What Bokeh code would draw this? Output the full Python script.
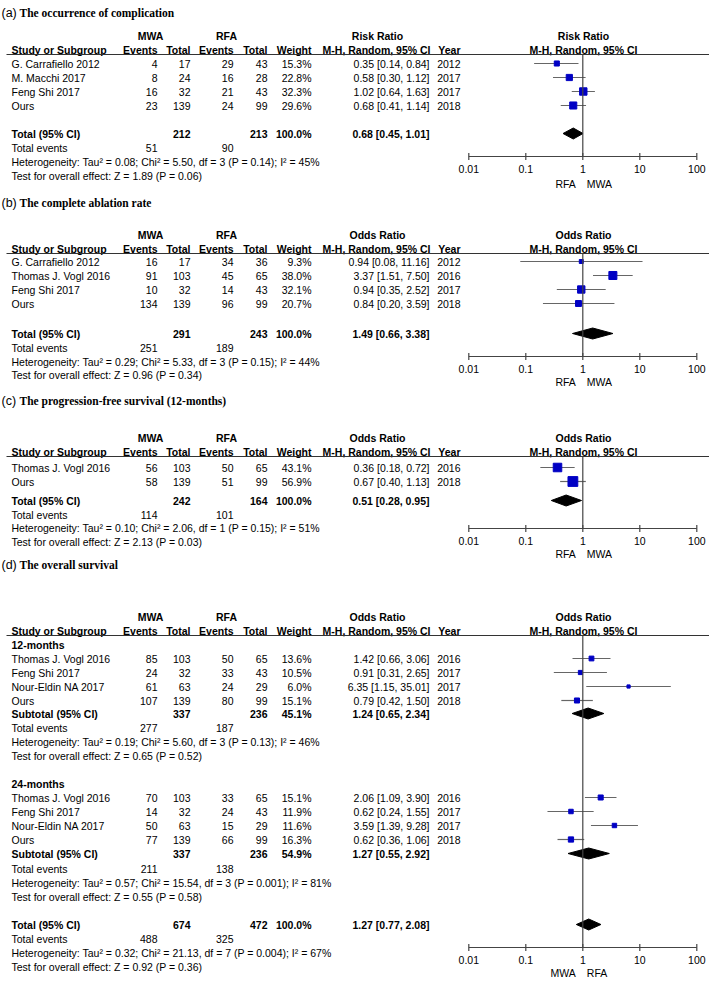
from bokeh.plotting import figure
from bokeh.models import Range1d, LogScale, ColumnDataSource
from bokeh.core.properties import value
from bokeh.embed import file_html
from bokeh.resources import INLINE

# ---------------- data ----------------
tick_vals = [0.01, 0.1, 1, 10, 100]
tick_labels = ["0.01", "0.1", "1", "10", "100"]

# (a) occurrence of complication (Risk Ratio)
a_study = ["G. Carrafiello 2012", "M. Macchi 2017", "Feng Shi 2017", "Ours"]
a_mwa_ev = [4, 8, 16, 23]
a_mwa_tot = [17, 24, 32, 139]
a_rfa_ev = [29, 16, 21, 24]
a_rfa_tot = [43, 28, 43, 99]
a_weight = [15.3, 22.8, 32.3, 29.6]
a_est = [0.35, 0.58, 1.02, 0.68]
a_lo = [0.14, 0.30, 0.64, 0.41]
a_hi = [0.84, 1.12, 1.63, 1.14]
a_year = [2012, 2017, 2017, 2018]
a_total = [212, 213, 100.0, 0.68, 0.45, 1.01]
a_events = [51, 90]
a_het = "Heterogeneity: Tau\u00b2 = 0.08; Chi\u00b2 = 5.50, df = 3 (P = 0.14); I\u00b2 = 45%"
a_test = "Test for overall effect: Z = 1.89 (P = 0.06)"

# (b) complete ablation rate (Odds Ratio)
b_study = ["G. Carrafiello 2012", "Thomas J. Vogl 2016", "Feng Shi 2017", "Ours"]
b_mwa_ev = [16, 91, 10, 134]
b_mwa_tot = [17, 103, 32, 139]
b_rfa_ev = [34, 45, 14, 96]
b_rfa_tot = [36, 65, 43, 99]
b_weight = [9.3, 38.0, 32.1, 20.7]
b_est = [0.94, 3.37, 0.94, 0.84]
b_lo = [0.08, 1.51, 0.35, 0.20]
b_hi = [11.16, 7.50, 2.52, 3.59]
b_year = [2012, 2016, 2017, 2018]
b_total = [291, 243, 100.0, 1.49, 0.66, 3.38]
b_events = [251, 189]
b_het = "Heterogeneity: Tau\u00b2 = 0.29; Chi\u00b2 = 5.33, df = 3 (P = 0.15); I\u00b2 = 44%"
b_test = "Test for overall effect: Z = 0.96 (P = 0.34)"

# (c) progression-free survival 12 months
c_study = ["Thomas J. Vogl 2016", "Ours"]
c_mwa_ev = [56, 58]
c_mwa_tot = [103, 139]
c_rfa_ev = [50, 51]
c_rfa_tot = [65, 99]
c_weight = [43.1, 56.9]
c_est = [0.36, 0.67]
c_lo = [0.18, 0.40]
c_hi = [0.72, 1.13]
c_year = [2016, 2018]
c_total = [242, 164, 100.0, 0.51, 0.28, 0.95]
c_events = [114, 101]
c_het = "Heterogeneity: Tau\u00b2 = 0.10; Chi\u00b2 = 2.06, df = 1 (P = 0.15); I\u00b2 = 51%"
c_test = "Test for overall effect: Z = 2.13 (P = 0.03)"

# (d) overall survival, 12 months
d1_study = ["Thomas J. Vogl 2016", "Feng Shi 2017", "Nour-Eldin NA 2017", "Ours"]
d1_mwa_ev = [85, 24, 61, 107]
d1_mwa_tot = [103, 32, 63, 139]
d1_rfa_ev = [50, 33, 24, 80]
d1_rfa_tot = [65, 43, 29, 99]
d1_weight = [13.6, 10.5, 6.0, 15.1]
d1_est = [1.42, 0.91, 6.35, 0.79]
d1_lo = [0.66, 0.31, 1.15, 0.42]
d1_hi = [3.06, 2.65, 35.01, 1.50]
d1_year = [2016, 2017, 2017, 2018]
d1_total = [337, 236, 45.1, 1.24, 0.65, 2.34]
d1_events = [277, 187]
d1_het = "Heterogeneity: Tau\u00b2 = 0.19; Chi\u00b2 = 5.60, df = 3 (P = 0.13); I\u00b2 = 46%"
d1_test = "Test for overall effect: Z = 0.65 (P = 0.52)"

# (d) overall survival, 24 months
d2_study = ["Thomas J. Vogl 2016", "Feng Shi 2017", "Nour-Eldin NA 2017", "Ours"]
d2_mwa_ev = [70, 14, 50, 77]
d2_mwa_tot = [103, 32, 63, 139]
d2_rfa_ev = [33, 24, 15, 66]
d2_rfa_tot = [65, 43, 29, 99]
d2_weight = [15.1, 11.9, 11.6, 16.3]
d2_est = [2.06, 0.62, 3.59, 0.62]
d2_lo = [1.09, 0.24, 1.39, 0.36]
d2_hi = [3.90, 1.55, 9.28, 1.06]
d2_year = [2016, 2017, 2017, 2018]
d2_total = [337, 236, 54.9, 1.27, 0.55, 2.92]
d2_events = [211, 138]
d2_het = "Heterogeneity: Tau\u00b2 = 0.57; Chi\u00b2 = 15.54, df = 3 (P = 0.001); I\u00b2 = 81%"
d2_test = "Test for overall effect: Z = 0.55 (P = 0.58)"

# (d) overall
d_total = [674, 472, 100.0, 1.27, 0.77, 2.08]
d_events = [488, 325]
d_het = "Heterogeneity: Tau\u00b2 = 0.32; Chi\u00b2 = 21.13, df = 7 (P = 0.004); I\u00b2 = 67%"
d_test = "Test for overall effect: Z = 0.92 (P = 0.36)"

# ---------------- figure ----------------
W, H = 709, 982
X0, X1, Y0, Y1 = 0, W, 0, H
LOG_ORIGIN = 468.3     # pixel column of 0.01
DECADE = 57.0          # pixels per decade
p = figure(width=W, height=H, x_range=Range1d(X0, X1), y_range=Range1d(Y1, Y0),
           output_backend="svg", toolbar_location=None, min_border=0,
           x_axis_location=None, y_axis_location=None)
p.grid.visible = False
p.outline_line_color = None
p.background_fill_color = "white"
p.border_fill_color = "white"
p.extra_x_ranges = {"log": Range1d(10 ** (-2 - (LOG_ORIGIN - X0) / DECADE),
                                   10 ** (-2 + (X1 - LOG_ORIGIN) / DECADE))}
p.extra_x_scales = {"log": LogScale()}

SANS = value("Liberation Sans")
FS = "10.5px"
LINE_C = "#666666"
BLUE = "#0000c4"

# column anchors (pixels)
C_STUDY, C_MEV, C_MTOT, C_REV, C_RTOT, C_W, C_CI, C_YEAR = 11, 157, 190, 233, 267, 311, 429, 460
FOREST_C = 583


def txt(xs, ys, texts, align="left", bold=False, size=FS, font=SANS, log=False, xoff=0):
    src = ColumnDataSource(dict(x=list(xs), y=list(ys), t=list(texts)))
    kw = dict(x_range_name="log") if log else {}
    p.text(x="x", y="y", text="t", source=src, text_font=font, text_font_size=size,
           text_font_style="bold" if bold else "normal", text_align=align,
           text_baseline="middle", text_color="black", x_offset=xoff, **kw)


def ci_str(e, l, h):
    return f"{e:.2f} [{l:.2f}, {h:.2f}]"


def header(L, measure, title_letter, title_text):
    txt([1], [L["title"]], [f"({title_letter})"], size="12.5px")
    txt([19], [L["title"] + 0.5], [title_text], bold=True, size="11.5px", font=value("Liberation Serif"))
    txt([150, 226, 377], [L["h1"]] * 3, ["MWA", "RFA", measure], align="center", bold=True)
    txt([FOREST_C], [L["h1"]], [measure], align="center", bold=True)
    txt([C_STUDY], [L["h2"]], ["Study or Subgroup"], bold=True)
    txt([C_MEV, C_MTOT, C_REV, C_RTOT, C_W, C_CI + 1, C_YEAR], [L["h2"]] * 7,
        ["Events", "Total", "Events", "Total", "Weight", "M-H, Random, 95% CI", "Year"],
        align="right", bold=True)
    txt([FOREST_C], [L["h2"]], ["M-H, Random, 95% CI"], align="center", bold=True)
    p.segment(x0=[6], y0=[L["h2"] + 5], x1=[X1], y1=[L["h2"] + 5], line_color="#333333", line_width=1)


def studies(ys, study, mev, mtot, rev, rtot, w, est, lo, hi, year):
    txt([C_STUDY] * len(ys), ys, study)
    txt([C_MEV] * len(ys), ys, [str(v) for v in mev], align="right")
    txt([C_MTOT] * len(ys), ys, [str(v) for v in mtot], align="right")
    txt([C_REV] * len(ys), ys, [str(v) for v in rev], align="right")
    txt([C_RTOT] * len(ys), ys, [str(v) for v in rtot], align="right")
    txt([C_W] * len(ys), ys, [f"{v:.1f}%" for v in w], align="right")
    txt([C_CI] * len(ys), ys, [ci_str(e, l, h) for e, l, h in zip(est, lo, hi)], align="right")
    txt([C_YEAR] * len(ys), ys, [str(v) for v in year], align="right")
    p.segment(x0=lo, y0=ys, x1=hi, y1=ys, x_range_name="log", line_color=LINE_C, line_width=1.2)
    sizes = [max(3.0, 1.3 * wi ** 0.5) for wi in w]
    p.scatter(x=est, y=ys, size=sizes, marker="square", x_range_name="log",
              fill_color=BLUE, line_color=BLUE)


def total_row(y, label, tot, ev_y, ev, het_y, het, test_y, test):
    txt([C_STUDY], [y], [label], bold=True)
    txt([C_MTOT, C_RTOT, C_W, C_CI], [y] * 4,
        [str(tot[0]), str(tot[1]), f"{tot[2]:.1f}%", ci_str(tot[3], tot[4], tot[5])],
        align="right", bold=True)
    e, l, h = tot[3], tot[4], tot[5]
    p.patches(xs=[[l, e, h, e]], ys=[[y, y - 5.5, y, y + 5.5]], x_range_name="log",
              fill_color="black", line_color="black")
    txt([C_STUDY], [ev_y], ["Total events"])
    txt([C_MEV, C_REV], [ev_y] * 2, [str(ev[0]), str(ev[1])], align="right")
    txt([C_STUDY], [het_y], [het])
    txt([C_STUDY], [test_y], [test])


def axis(top, ay, ly, dy, left_lab, right_lab):
    p.segment(x0=[1], y0=[top], x1=[1], y1=[ay], x_range_name="log", line_color="#444444", line_width=1.2)
    p.segment(x0=[tick_vals[0]], y0=[ay], x1=[tick_vals[-1]], y1=[ay], x_range_name="log",
              line_color="#444444", line_width=1.2)
    p.segment(x0=tick_vals, y0=[ay - 3.5] * 5, x1=tick_vals, y1=[ay + 3.5] * 5, x_range_name="log",
              line_color="#444444", line_width=1.2)
    txt(tick_vals, [ly] * 5, tick_labels, align="center", log=True)
    txt([1], [dy], [left_lab], align="right", log=True, xoff=-7)
    txt([1], [dy], [right_lab], align="left", log=True, xoff=4)


# ---------------- section (a) ----------------
LA = dict(title=12, h1=35, h2=49)
header(LA, "Risk Ratio", "a", "The occurrence of complication")
studies([63, 77, 91, 105], a_study, a_mwa_ev, a_mwa_tot, a_rfa_ev, a_rfa_tot, a_weight,
        a_est, a_lo, a_hi, a_year)
total_row(133, "Total (95% CI)", a_total, 147, a_events, 161, a_het, 175, a_test)
axis(LA["h2"] + 5, 156, 168, 183, "RFA", "MWA")

# ---------------- section (b) ----------------
LB = dict(title=202, h1=234, h2=248)
header(LB, "Odds Ratio", "b", "The complete ablation rate")
studies([261, 275, 289, 303], b_study, b_mwa_ev, b_mwa_tot, b_rfa_ev, b_rfa_tot, b_weight,
        b_est, b_lo, b_hi, b_year)
total_row(333, "Total (95% CI)", b_total, 347, b_events, 361, b_het, 374, b_test)
axis(LB["h2"] + 5, 356, 368, 381, "RFA", "MWA")

# ---------------- section (c) ----------------
LC = dict(title=400, h1=437, h2=451)
header(LC, "Odds Ratio", "c", "The progression-free survival  (12-months)")
studies([467, 481], c_study, c_mwa_ev, c_mwa_tot, c_rfa_ev, c_rfa_tot, c_weight,
        c_est, c_lo, c_hi, c_year)
total_row(500, "Total (95% CI)", c_total, 514, c_events, 527, c_het, 541, c_test)
axis(LC["h2"] + 5, 528, 540, 553, "RFA", "MWA")

# ---------------- section (d) ----------------
LD = dict(title=564, h1=616, h2=630)
header(LD, "Odds Ratio", "d", "The overall survival")
txt([C_STUDY], [644], ["12-months"], bold=True)
studies([658, 672, 686, 700], d1_study, d1_mwa_ev, d1_mwa_tot, d1_rfa_ev, d1_rfa_tot, d1_weight,
        d1_est, d1_lo, d1_hi, d1_year)
total_row(713, "Subtotal (95% CI)", d1_total, 727, d1_events, 741, d1_het, 755, d1_test)
txt([C_STUDY], [783], ["24-months"], bold=True)
studies([797, 811, 825, 839], d2_study, d2_mwa_ev, d2_mwa_tot, d2_rfa_ev, d2_rfa_tot, d2_weight,
        d2_est, d2_lo, d2_hi, d2_year)
total_row(853, "Subtotal (95% CI)", d2_total, 868, d2_events, 882, d2_het, 896, d2_test)
total_row(924, "Total (95% CI)", d_total, 938, d_events, 952, d_het, 966, d_test)
axis(LD["h2"] + 5, 947, 959, 972, "MWA", "RFA")

open("out.html", "w").write(file_html(p, INLINE))
